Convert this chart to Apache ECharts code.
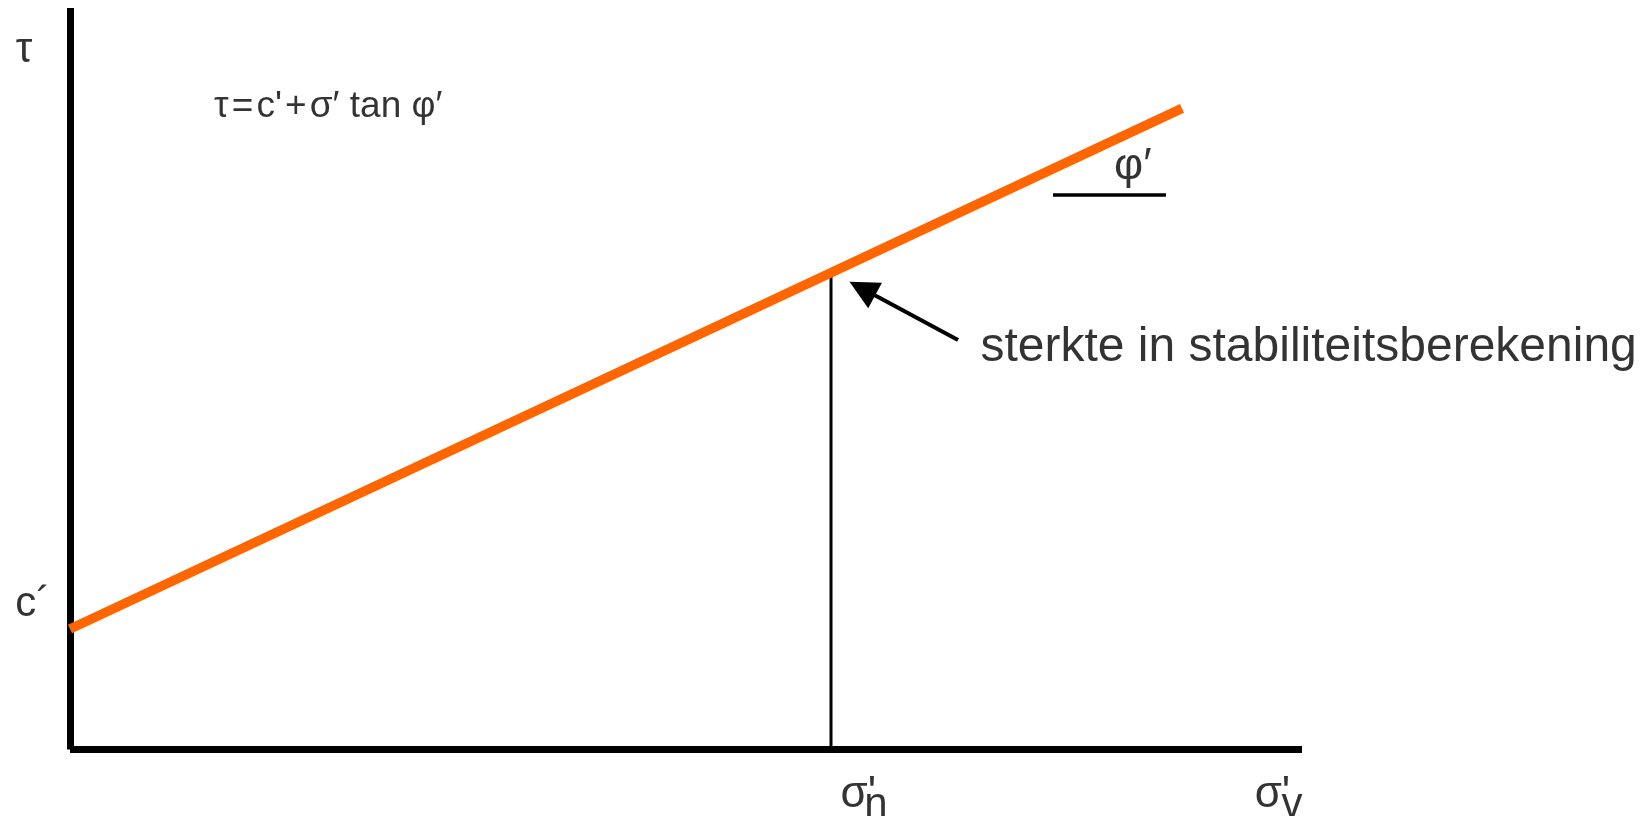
<!DOCTYPE html>
<html>
<head>
<meta charset="utf-8">
<script src="https://cdn.jsdelivr.net/npm/echarts@6/dist/echarts.min.js"></script>
<style>
  html, body { margin: 0; padding: 0; background: #fff; }
  #chart { width: 1644px; height: 816px; }
</style>
</head>
<body>
<div id="chart"></div>
<script>
  // Mohr-Coulomb envelope, axes in arbitrary units 0..100
  var envelope = [[0, 16.25], [90.26, 86.47]];
  var sigmaN = 61.77;
  var tauN = 64.3;
  var phiBase = [[79.79, 74.78], [88.96, 74.78]];
  var arrow = [[72.08, 55.23], [64.31, 62.16]];

  // text notes: [text, x, y]
  var axisNotes = [
    ['τ', -4.4, 94.3],
    ['c´', -4.45, 19.6],
    ['n', 64.47, -7.5],
    ['v', 98.34, -7.5]
  ];
  var sigmaNotes = [
    ["σ'", 62.55, -6.18],
    ["σ'", 96.16, -6.18]
  ];
  var phiNote = [['φ′', 84.75, 78.6]];
  var formulaNote = [["τ\u200A=\u200Ac'\u200A+\u200Aσ′ tan φ′", 11.69, 86.7]];
  var calloutNote = [['sterkte in stabiliteitsberekening', 73.9, 54.19]];

  var font = "'Liberation Sans', Arial, 'DejaVu Sans', sans-serif";

  function noteSeries(notes, size) {
    return {
      type: 'scatter',
      symbol: 'circle',
      symbolSize: 1,
      clip: false,
      silent: true,
      itemStyle: { color: 'transparent' },
      label: {
        show: true,
        position: 'inside',
        align: 'left',
        verticalAlign: 'middle',
        color: '#000',
        fontFamily: font,
        fontSize: size,
        formatter: function (p) { return p.data.name; }
      },
      data: notes.map(function (n) { return { name: n[0], value: [n[1], n[2]] }; }),
      z: 5
    };
  }

  var blackAxis = {
    show: true,
    onZero: false,
    lineStyle: { color: '#000', width: 7, cap: 'butt' }
  };

  var option = {
    animation: false,
    grid: {
      left: 70,
      top: 8,
      right: 342,
      bottom: 66.5,
      containLabel: false,
      outerBoundsMode: 'none'
    },
    xAxis: {
      type: 'value',
      min: 0,
      max: 100,
      axisLine: blackAxis,
      axisTick: { show: false },
      axisLabel: { show: false },
      splitLine: { show: false }
    },
    yAxis: {
      type: 'value',
      min: 0,
      max: 100,
      axisLine: blackAxis,
      axisTick: { show: false },
      axisLabel: { show: false },
      splitLine: { show: false }
    },
    series: [
      {
        // vertical at sigma'n
        type: 'line',
        symbol: 'none',
        silent: true,
        lineStyle: { color: '#000', width: 3, cap: 'butt' },
        data: [[sigmaN, 0], [sigmaN, tauN]],
        z: 2
      },
      {
        type: 'line',
        symbol: 'none',
        silent: true,
        lineStyle: { color: '#000', width: 3.3, cap: 'butt' },
        data: phiBase,
        z: 2
      },
      {
        // strength envelope
        type: 'line',
        symbol: 'none',
        silent: true,
        clip: false,
        lineStyle: { color: '#FF6600', width: 9.5, cap: 'butt' },
        data: envelope,
        z: 3
      },
      {
        type: 'lines',
        coordinateSystem: 'cartesian2d',
        silent: true,
        symbol: ['none', 'triangle'],
        symbolSize: 29,
        lineStyle: { color: '#000', width: 4, curveness: 0, opacity: 1 },
        itemStyle: { color: '#000' },
        data: [{ coords: arrow }],
        z: 4
      },
      noteSeries(axisNotes, 42),
      noteSeries(sigmaNotes, 44),
      noteSeries(phiNote, 45),
      noteSeries(formulaNote, 37),
      noteSeries(calloutNote, 48)
    ]
  };

  var chart = echarts.init(document.getElementById('chart'));
  chart.setOption(option);
</script>
</body>
</html>
